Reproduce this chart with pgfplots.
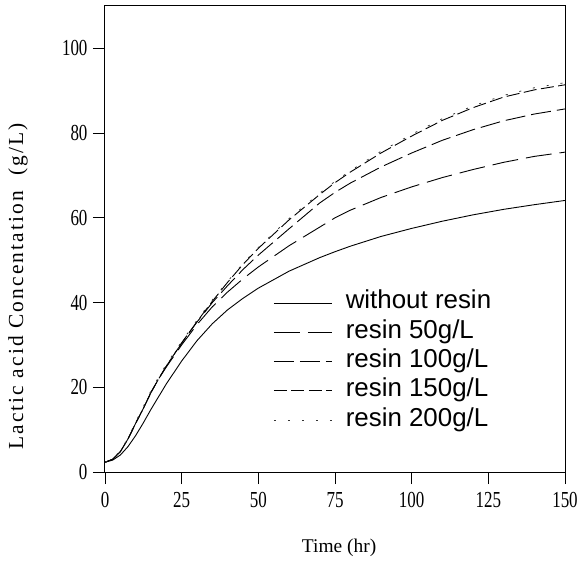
\documentclass[border=0pt]{standalone}
\usepackage{fontspec}
\setmainfont{Liberation Serif}
\newfontfamily\legfont{Liberation Sans}
\newfontfamily\lblfont[LetterSpace=10]{Liberation Serif}
\usepackage{pgfplots}
\pgfplotsset{compat=1.18}
\usepackage{graphicx}
\begin{document}
\begin{tikzpicture}
\begin{axis}[
  scale only axis,
  width=460bp, height=466bp,
  xmin=0, xmax=150, ymin=0, ymax=110,
  xtick={0,25,50,75,100,125,150},
  ytick={0,20,40,60,80,100},
  tick align=outside,
  xtick pos=bottom, ytick pos=left,
  major tick length=12bp,
  axis line style={line width=1bp},
  tick style={line width=0.9bp, black},
  tick label style={font=\fontsize{23}{23}\selectfont},
  xticklabel={\scalebox{0.74}[1]{\pgfmathprintnumber[assume math mode=true]{\tick}}},
  yticklabel={\scalebox{0.74}[1]{\pgfmathprintnumber[assume math mode=true]{\tick}}},
  xticklabel style={yshift=-5bp},
  yticklabel style={xshift=-2bp},
  xlabel={Time (hr)},
  ylabel={Lactic acid Concentation \ (g/L)},
  every axis x label/.style={at={(axis description cs:0.509,-0.163)}, anchor=center, font=\fontsize{19.5}{19.5}\selectfont},
  every axis y label/.style={at={(axis description cs:-0.189,0.398)}, anchor=center, rotate=90, font=\lblfont\fontsize{21.5}{21.5}\selectfont},
  legend style={draw=none, fill=none, at={(rel axis cs:0.359,0.391)}, anchor=north west,
    font=\legfont\fontsize{26}{26}\selectfont, row sep=7.3bp,
    nodes={inner ysep=0pt, inner xsep=0bp, text height=17bp, text depth=5bp}},
  legend cell align=left,
  legend image code/.code={\draw[#1] (0bp,0bp) -- (58bp,0bp); \path[draw=none] (72bp,0bp) circle (0.01bp);},
]
\addplot[black, line width=0.9bp] coordinates {
(0,2.3)(2.5,2.8)(5,4.0)(7.5,6.0)(10,8.6)(12.5,11.6)(15,14.8)(17.5,17.8)(20,20.8)(25,26.2)(30,31.0)(35,35.0)(40,38.3)(45,41.0)(50,43.4)(60,47.4)(70,50.6)(75,52.0)(80,53.3)(90,55.6)(100,57.5)(110,59.2)(120,60.7)(130,62.0)(140,63.1)(150,64.1)};
\addlegendentry{without resin}
\addplot[black, line width=0.9bp, dash pattern=on 26bp off 8bp] coordinates {
(0,2.3)(2.5,3.0)(5,4.8)(7.5,7.8)(10,11.5)(12.5,15.0)(15,18.8)(17.5,22.0)(20,24.8)(25,30.0)(30,34.8)(35,39.0)(40,42.5)(45,45.6)(50,48.4)(60,53.4)(70,57.8)(75,60.0)(80,61.8)(90,64.8)(100,67.3)(110,69.5)(120,71.4)(130,73.1)(140,74.5)(150,75.5)};
\addlegendentry{resin 50g/L}
\addplot[black, line width=0.9bp, dash pattern=on 20bp off 6bp] coordinates {
(0,2.3)(2.5,3.0)(5,4.8)(7.5,7.8)(10,11.5)(12.5,15.0)(15,18.8)(17.5,22.0)(20,25.0)(25,30.4)(30,35.4)(35,40.0)(40,44.0)(45,47.8)(50,51.2)(60,57.4)(70,63.5)(75,66.0)(80,68.2)(90,72.0)(100,75.3)(110,78.3)(120,80.8)(130,82.9)(140,84.5)(150,85.7)};
\addlegendentry{resin 100g/L}
\addplot[black, line width=0.9bp, dash pattern=on 13bp off 4.5bp] coordinates {
(0,2.3)(2.5,3.0)(5,4.8)(7.5,7.8)(10,11.5)(12.5,15.0)(15,18.8)(17.5,22.0)(20,25.0)(25,30.5)(30,35.5)(35,40.3)(40,44.8)(45,49.0)(50,52.8)(60,59.5)(70,65.5)(75,68.3)(80,70.8)(90,75.3)(100,79.3)(110,83.0)(120,86.0)(130,88.5)(140,90.2)(150,91.4)};
\addlegendentry{resin 150g/L}
\addplot[black!80, line width=0.8bp, dash pattern=on 2bp off 12bp] coordinates {
(0,2.3)(2.5,3.1)(5,5.0)(7.5,8.0)(10,11.8)(12.5,15.4)(15,19.2)(17.5,22.4)(20,25.4)(25,30.8)(30,35.8)(35,40.6)(40,45.0)(45,49.2)(50,53.0)(60,59.8)(70,65.8)(75,68.6)(80,71.1)(90,75.7)(100,79.7)(110,83.4)(120,86.4)(130,88.9)(140,90.7)(150,91.9)};
\addlegendentry{resin 200g/L}
\end{axis}
\pgfresetboundingbox
\useasboundingbox ([shift={(-105bp,-93bp)}]current axis.south west) rectangle ([shift={(20bp,6bp)}]current axis.north east);
\end{tikzpicture}
\end{document}
